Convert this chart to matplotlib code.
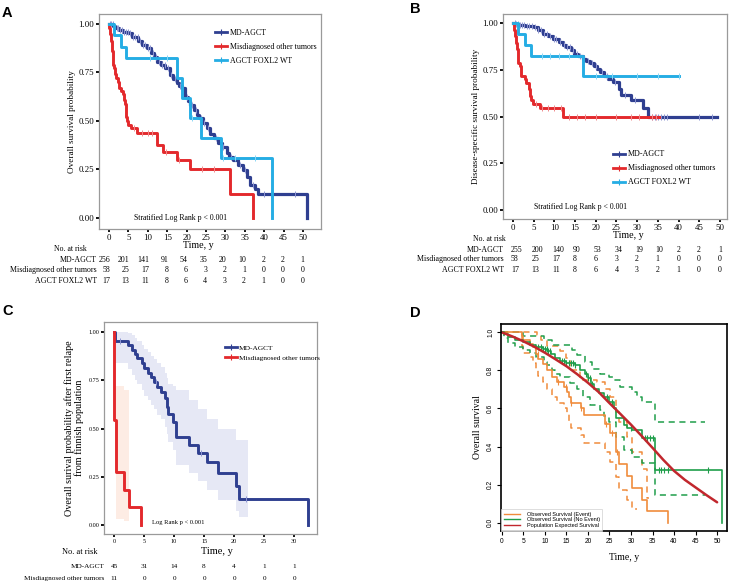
import numpy as np
import matplotlib
matplotlib.use('Agg')
import matplotlib.pyplot as plt
from matplotlib.lines import Line2D
import matplotlib.transforms as mtransforms

SERIF = 'Liberation Serif'
SANS = 'Liberation Sans'

W, H = 732, 583

# ---------------- DATA ----------------
# Panel A: overall survival
a_md_t = [0, 1.0, 1.5, 2.5, 3.5, 5.0, 6.0, 7.5, 8.5, 9.7, 10.8, 11.5, 12.3, 13.5, 14.5, 15.7, 16.5, 17.4,
          18.0, 18.7, 19.6, 20.3, 20.9, 21.8, 22.6, 23.3, 24.2, 25.2, 26.1, 27.0, 28.2, 29.0, 30.3, 31.0,
          32.0, 33.2, 34.6, 35.6, 36.3, 37.5, 38.5, 51.1]
a_md_s = [1.0, 0.99, 0.98, 0.97, 0.96, 0.952, 0.935, 0.91, 0.89, 0.875, 0.85, 0.83, 0.806, 0.79, 0.772,
          0.737, 0.715, 0.694, 0.68, 0.668, 0.625, 0.605, 0.583, 0.555, 0.531, 0.514, 0.49, 0.462, 0.435,
          0.411, 0.385, 0.368, 0.333, 0.315, 0.299, 0.273, 0.247, 0.213, 0.170, 0.15, 0.124, 0.0]
a_md_c = [0.3, 0.6, 0.9, 1.2, 1.6, 2.0, 2.4, 2.8, 3.3, 3.8, 4.3, 4.9, 5.5, 6.2, 6.8, 7.4, 8.0, 8.7, 9.3,
          10.0, 10.6, 11.3, 12.0, 12.8, 13.6, 14.4, 15.2, 16.1, 17.0, 18.2, 19.0, 20.0, 21.3, 22.3, 23.6,
          24.6, 25.6, 27.5, 29.5, 31.5, 33.8, 35.0, 37.0, 40.0, 48.0]
a_mis_t = [0, 0.1, 0.2, 0.3, 0.45, 0.55, 0.7, 0.85, 1.0, 1.1, 1.3, 1.5, 1.8, 2.2, 2.6, 3.0, 3.5, 3.9, 4.2,
           4.4, 4.5, 4.7, 5.0, 5.6, 7.1, 12.3, 13.8, 17.5, 20.9, 31.2, 37.2]
a_mis_s = [1.0, 0.98, 0.965, 0.95, 0.93, 0.91, 0.88, 0.86, 0.83, 0.79, 0.775, 0.74, 0.72, 0.70, 0.67,
           0.655, 0.64, 0.61, 0.59, 0.57, 0.52, 0.50, 0.48, 0.465, 0.44, 0.375, 0.34, 0.30, 0.25, 0.125, 0.0]
a_mis_c = [6.5, 8.5, 10.0, 11.0, 14.6, 18.0, 24.0, 27.0]
a_wt_t = [0, 1.3, 3.2, 4.4, 17.4, 18.9, 20.9, 23.7, 28.8, 42.0]
a_wt_s = [1.0, 0.941, 0.882, 0.824, 0.72, 0.62, 0.515, 0.41, 0.31, 0.0]
a_wt_c = [10.5, 15.0, 21.5, 29.5, 32.5, 37.5]

# Panel B: disease-specific survival
b_md_t = [0, 0.5, 1.5, 3.0, 5.0, 6.0, 7.3, 8.5, 9.6, 11.2, 12.0, 12.8, 14.0, 14.8, 15.8, 16.8, 17.6, 18.6,
          19.5, 20.3, 21.0, 22.0, 23.0, 24.2, 25.5, 26.2, 28.6, 31.5, 32.7, 49.4]
b_md_s = [1.0, 0.995, 0.99, 0.985, 0.98, 0.965, 0.945, 0.93, 0.918, 0.90, 0.885, 0.873, 0.855, 0.837,
          0.825, 0.811, 0.80, 0.79, 0.77, 0.755, 0.74, 0.72, 0.704, 0.686, 0.65, 0.615, 0.588, 0.544,
          0.499, 0.499]
b_md_c = [0.4, 0.8, 1.2, 1.7, 2.2, 2.7, 3.3, 3.9, 4.5, 5.3, 6.0, 6.8, 7.6, 8.3, 9.0, 9.8, 10.5, 11.3,
          12.2, 13.0, 13.8, 14.6, 15.5, 16.3, 17.2, 18.0, 19.0, 20.0, 21.5, 22.6, 24.6, 27.0, 29.5,
          33.5, 34.2, 35.0, 35.8, 36.5, 37.3, 45.0, 48.0]
b_mis_t = [0, 0.3, 0.5, 0.7, 0.9, 1.1, 1.3, 1.6, 2.0, 2.8, 3.2, 3.8, 4.2, 4.4, 4.8, 6.4, 12.0, 35.3]
b_mis_s = [1.0, 0.965, 0.93, 0.895, 0.86, 0.825, 0.79, 0.77, 0.72, 0.70, 0.68, 0.65, 0.61, 0.59, 0.57,
           0.545, 0.50, 0.50]
b_mis_c = [5.5, 7.0, 8.5, 10.0, 11.5, 13.5, 15.5, 17.5, 20.0, 25.0, 28.5, 30.5, 33.5, 34.5]
b_wt_t = [0, 1.2, 3.0, 4.4, 16.8, 40.2]
b_wt_s = [1.0, 0.941, 0.882, 0.824, 0.717, 0.717]
b_wt_c = [7.0, 9.0, 11.0, 13.5, 20.0, 24.0, 30.0, 35.0, 40.2]

# Panel C: survival after first relapse
c_md_t = [0, 0.17, 2.39, 2.94, 3.5, 3.89, 4.61, 5.0, 5.72, 6.11, 6.67, 7.11, 7.83, 8.5, 8.78, 9.06,
          9.89, 10.28, 12.56, 14.06, 15.44, 17.39, 20.33, 20.83, 32.39]
c_md_s = [1.0, 0.957, 0.934, 0.91, 0.888, 0.865, 0.84, 0.813, 0.787, 0.766, 0.744, 0.718, 0.692, 0.657,
          0.614, 0.576, 0.536, 0.458, 0.415, 0.372, 0.324, 0.272, 0.202, 0.133, 0.0]
c_md_ci_t = [0, 0.17, 2.39, 2.94, 3.5, 3.89, 4.61, 5.0, 5.72, 6.11, 6.67, 7.11, 7.83, 8.5, 8.78, 9.06,
             9.89, 10.28, 12.56, 14.06, 15.44, 17.39, 20.33, 20.83, 22.3]
c_md_lo = [1.0, 0.84, 0.81, 0.78, 0.75, 0.73, 0.70, 0.67, 0.65, 0.62, 0.60, 0.57, 0.55, 0.51, 0.47, 0.43,
           0.39, 0.31, 0.27, 0.23, 0.18, 0.13, 0.07, 0.04, 0.04]
c_md_hi = [1.0, 1.0, 0.995, 0.985, 0.97, 0.955, 0.935, 0.915, 0.895, 0.875, 0.86, 0.84, 0.82, 0.79, 0.76,
           0.73, 0.72, 0.70, 0.65, 0.60, 0.55, 0.50, 0.44, 0.44, 0.44]
c_md_c = [1.0, 7.0, 14.5, 22.0]
c_mis_t = [0, 0.05, 0.33, 1.67, 2.56, 4.44]
c_mis_s = [1.0, 0.545, 0.273, 0.182, 0.091, 0.0]
c_mis_ci_t = [0.33, 1.67, 2.56]
c_mis_lo = [0.03, 0.02, 0.02]
c_mis_hi = [0.72, 0.70, 0.70]

# Panel D: observed vs expected survival
d_ev_t = [0, 4.7, 5.0, 6.5, 7.2, 8.0, 8.5, 9.5, 10.5, 11.7, 12.8, 14.4, 15.2, 15.6, 16.0, 18.3, 19.1,
          24.0, 25.2, 26.4, 27.1, 29.1, 30.3, 32.6, 33.8, 38.7]
d_ev_s = [1.0, 0.98, 0.958, 0.94, 0.923, 0.888, 0.862, 0.836, 0.80, 0.766, 0.74, 0.714, 0.687, 0.66,
          0.627, 0.60, 0.565, 0.52, 0.47, 0.37, 0.31, 0.243, 0.18, 0.12, 0.06, 0.0]
d_ev_hi_t = [0, 8.1, 9.0, 10.5, 13.5, 15.0, 15.8, 18.2, 22.0, 24.0, 25.2, 26.4, 27.1, 29.1, 30.3, 32.6,
             33.8, 34.2]
d_ev_hi = [1.0, 0.985, 0.96, 0.93, 0.90, 0.863, 0.80, 0.75, 0.74, 0.70, 0.66, 0.58, 0.53, 0.45, 0.37,
           0.28, 0.13, 0.13]
d_ev_lo_t = [0, 4.7, 5.0, 6.5, 7.2, 8.0, 8.5, 9.5, 10.5, 11.7, 12.8, 14.4, 15.2, 15.6, 16.0, 18.3, 19.1,
             24.0, 25.2, 26.4, 27.1, 29.1, 30.3, 31.4]
d_ev_lo = [1.0, 0.93, 0.89, 0.87, 0.84, 0.80, 0.77, 0.74, 0.70, 0.66, 0.63, 0.60, 0.57, 0.53, 0.50, 0.46,
           0.42, 0.37, 0.32, 0.24, 0.17, 0.12, 0.07, 0.07]
d_ev_c = [7.8, 8.3, 13.0, 14.8, 16.0, 18.5, 24.2, 25.5, 26.8]
d_ne_t = [0, 0.5, 1.5, 3.0, 5.0, 6.5, 8.0, 9.5, 10.5, 11.3, 12.3, 13.5, 15.0, 17.0, 18.1, 19.2, 19.9,
          20.7, 21.4, 22.5, 23.7, 24.9, 26.0, 26.4, 28.3, 29.1, 30.3, 32.6, 35.6, 51.1]
d_ne_s = [1.0, 0.99, 0.975, 0.96, 0.948, 0.935, 0.925, 0.915, 0.90, 0.888, 0.865, 0.85, 0.84, 0.83,
          0.80, 0.78, 0.76, 0.73, 0.70, 0.68, 0.66, 0.635, 0.605, 0.548, 0.513, 0.50, 0.485, 0.443,
          0.277, 0.0]
d_ne_hi_t = [0, 5.0, 9.7, 11.6, 16.2, 17.5, 19.3, 21.0, 22.8, 24.9, 26.0, 27.5, 30.3, 31.5, 32.6, 35.6,
             47.3]
d_ne_hi = [1.0, 0.98, 0.96, 0.933, 0.907, 0.88, 0.846, 0.81, 0.78, 0.765, 0.75, 0.714, 0.687, 0.66,
           0.634, 0.527, 0.527]
d_ne_lo_t = [0, 0.5, 1.5, 3.0, 5.0, 6.5, 8.0, 9.7, 10.5, 11.6, 12.3, 13.5, 15.8, 17.4, 18.9, 20.5, 22.8,
             23.7, 24.9, 26.4, 28.3, 30.3, 32.6, 35.6, 47.3]
d_ne_lo = [1.0, 0.97, 0.945, 0.925, 0.907, 0.89, 0.872, 0.845, 0.828, 0.80, 0.78, 0.767, 0.735, 0.70,
           0.662, 0.62, 0.59, 0.56, 0.53, 0.452, 0.38, 0.347, 0.313, 0.147, 0.147]
d_ne_c = [8.5, 9.0, 9.5, 10.0, 10.4, 10.8, 11.1, 14.0, 14.5, 15.0, 15.5, 16.0, 16.5, 17.0, 19.5, 20.0,
          20.4, 21.0, 24.5, 25.5, 30.0, 33.2, 33.8, 34.5, 35.2, 36.5, 37.0, 37.6, 38.5, 48.0]
d_exp_t = [0, 2.5, 5, 7.5, 10, 12.5, 15, 17.5, 20, 22.5, 25, 27.5, 30, 32.5, 35, 37.5, 40, 42.5, 45, 47.5, 50]
d_exp_s = [1.0, 0.978, 0.953, 0.925, 0.893, 0.858, 0.822, 0.780, 0.735, 0.686, 0.628, 0.572, 0.515,
           0.455, 0.393, 0.330, 0.272, 0.225, 0.185, 0.145, 0.107]

# Risk tables
ab_ticks = list(range(0, 51, 5))
a_risk_md = [256, 201, 141, 91, 54, 35, 20, 10, 2, 2, 1]
b_risk_md = [255, 200, 140, 90, 53, 34, 19, 10, 2, 2, 1]
ab_risk_mis = [58, 25, 17, 8, 6, 3, 2, 1, 0, 0, 0]
ab_risk_wt = [17, 13, 11, 8, 6, 4, 3, 2, 1, 0, 0]
c_ticks = list(range(0, 31, 5))
c_risk_md = [45, 31, 14, 8, 4, 1, 1]
c_risk_mis = [11, 0, 0, 0, 0, 0, 0]

groups3 = ['MD-AGCT', 'Misdiagnosed other tumors', 'AGCT FOXL2 WT']
d_groups = ['Observed Survival (Event)', 'Observed Survival (No Event)', 'Population Expected Survival']

# colors
NAVY = '#2f3f90'
NAVY_L = '#8e96d2'
RED = '#e3292c'
RED_L = '#f08a8c'
CYAN = '#25ade4'
CYAN_L = '#8ad6f5'
D_OR = '#f08c3c'
D_GR = '#1f9e4a'
D_RED = '#c1272d'

fig = plt.figure(figsize=(W / 100, H / 100), dpi=100)


def fx(px):
    return px / W


def fy(py):
    return 1 - py / H


def add_axes(l, t, r, b):
    return fig.add_axes([fx(l), fy(b), fx(r - l), (b - t) / H])


def km(ax, t, s, color, lw=2.0, **kw):
    ax.step(t, s, where='post', color=color, lw=lw, **kw)


def censor(ax, t, s, ct, color, ms=4, mew=0.7):
    idx = np.searchsorted(np.asarray(t), np.asarray(ct), side='right') - 1
    ax.plot(ct, np.asarray(s)[idx], ls='none', marker='|', color=color, ms=ms, mew=mew)


def style_gg(ax, tick_fs):
    for sp in ax.spines.values():
        sp.set_color('#9a9a9a')
        sp.set_linewidth(0.9)
    ax.tick_params(direction='out', length=2, width=1.3, color='black', labelsize=tick_fs, pad=1.5)
    for lab in ax.get_xticklabels() + ax.get_yticklabels():
        lab.set_family(SERIF)


# ---------------- Panel A ----------------
axA = add_axes(99, 14, 321, 229)
km(axA, a_md_t, a_md_s, NAVY, lw=2.3)
censor(axA, a_md_t, a_md_s, a_md_c, NAVY_L)
km(axA, a_mis_t, a_mis_s, RED, lw=2.1)
censor(axA, a_mis_t, a_mis_s, a_mis_c, RED_L)
km(axA, a_wt_t, a_wt_s, CYAN, lw=2.1)
censor(axA, a_wt_t, a_wt_s, a_wt_c, CYAN_L)
axA.set_xlim(-2.58, 54.64)
axA.set_ylim(-0.057, 1.0515)
axA.set_xticks(ab_ticks)
axA.set_yticks([0, 0.25, 0.5, 0.75, 1.0])
axA.set_yticklabels(['0.00', '0.25', '0.50', '0.75', '1.00'])
style_gg(axA, 6.3)
axA.set_ylabel('Overall survival probability', family=SERIF, fontsize=6.6, labelpad=2)
axA.text(0.5 * (0 + 50) - 6.5, 0.0, 'Stratified Log Rank p < 0.001', family=SERIF, fontsize=5.6,
         ha='center', va='center')
hA = [Line2D([], [], color=c, lw=2.0, marker='|', ms=5, mew=0.8) for c in (NAVY, RED, CYAN)]
axA.legend(hA, groups3, loc='upper left', bbox_to_anchor=(0.49, 0.965), frameon=False,
           prop={'family': SERIF, 'size': 5.7}, handlelength=1.5, handletextpad=0.35, labelspacing=0.75)
fig.text(fx(198), fy(245), 'Time, y', family=SERIF, fontsize=7.2, ha='center', va='center')

trA = mtransforms.blended_transform_factory(axA.transData, fig.transFigure)
fig.text(fx(87), fy(249), 'No. at risk', family=SERIF, fontsize=5.6, ha='right', va='center')
for lab, row, py in zip(groups3, [a_risk_md, ab_risk_mis, ab_risk_wt], [260, 270.5, 281]):
    fig.text(fx(97), fy(py), lab, family=SERIF, fontsize=5.7, ha='right', va='center')
    for xv, n in zip(ab_ticks, row):
        axA.text(xv + 0.3, fy(py), str(n), transform=trA, family=SERIF, fontsize=5.7,
                 ha='right', va='center')

# ---------------- Panel B ----------------
axB = add_axes(503, 14, 727, 219)
km(axB, b_md_t, b_md_s, NAVY, lw=2.3)
censor(axB, b_md_t, b_md_s, b_md_c, NAVY_L)
km(axB, b_mis_t, b_mis_s, RED, lw=2.1)
censor(axB, b_mis_t, b_mis_s, b_mis_c, RED_L)
km(axB, b_wt_t, b_wt_s, CYAN, lw=2.1)
censor(axB, b_wt_t, b_wt_s, b_wt_c, CYAN_L)
axB.set_xlim(-2.42, 51.7)
axB.set_ylim(-0.048, 1.05)
axB.set_xticks(ab_ticks)
axB.set_yticks([0, 0.25, 0.5, 0.75, 1.0])
axB.set_yticklabels(['0.00', '0.25', '0.50', '0.75', '1.00'])
style_gg(axB, 6.3)
axB.set_ylabel('Disease-specific survival probability', family=SERIF, fontsize=6.6, labelpad=2)
axB.text(16.4, 0.017, 'Stratified Log Rank p < 0.001', family=SERIF, fontsize=5.6,
         ha='center', va='center')
hB = [Line2D([], [], color=c, lw=2.0, marker='|', ms=5, mew=0.8) for c in (NAVY, RED, CYAN)]
axB.legend(hB, groups3, loc='upper left', bbox_to_anchor=(0.46, 0.37), frameon=False,
           prop={'family': SERIF, 'size': 5.8}, handlelength=1.5, handletextpad=0.35, labelspacing=0.75)
fig.text(fx(628), fy(235), 'Time, y', family=SERIF, fontsize=7.2, ha='center', va='center')

trB = mtransforms.blended_transform_factory(axB.transData, fig.transFigure)
fig.text(fx(506), fy(239), 'No. at risk', family=SERIF, fontsize=5.6, ha='right', va='center')
for lab, row, py in zip(groups3, [b_risk_md, ab_risk_mis, ab_risk_wt], [250, 259.5, 270]):
    fig.text(fx(504), fy(py), lab, family=SERIF, fontsize=5.7, ha='right', va='center')
    for xv, n in zip(ab_ticks, row):
        axB.text(xv - 0.5, fy(py), str(n), transform=trB, family=SERIF, fontsize=5.7,
                 ha='left', va='center')

# ---------------- Panel C ----------------
axC = add_axes(104, 322, 317, 534)
axC.fill_between(c_md_ci_t, c_md_lo, c_md_hi, step='post', color='#e6e8f5', lw=0)
axC.fill_between(c_mis_ci_t, c_mis_lo, c_mis_hi, step='post', color='#fdece4', lw=0)
km(axC, c_md_t, c_md_s, NAVY, lw=2.1)
censor(axC, c_md_t, c_md_s, c_md_c, NAVY_L)
km(axC, c_mis_t, c_mis_s, RED, lw=2.1)
axC.set_xlim(-1.67, 33.83)
axC.set_ylim(-0.047, 1.053)
axC.set_xticks(c_ticks)
axC.set_yticks([0, 0.25, 0.5, 0.75, 1.0])
axC.set_yticklabels(['0.00', '0.25', '0.50', '0.75', '1.00'])
style_gg(axC, 4.4)
axC.set_ylabel('Overall surival probability after first relape\nfrom finnish population',
               family=SERIF, fontsize=7.3, labelpad=3, linespacing=1.0)
axC.text(10.7, 0.012, 'Log Rank p < 0.001', family=SERIF, fontsize=4.7, ha='center', va='center')
hC = [Line2D([], [], color=c, lw=2.0, marker='|', ms=5, mew=0.8) for c in (NAVY, RED)]
axC.legend(hC, groups3[:2], loc='upper left', bbox_to_anchor=(0.535, 0.925), frameon=False,
           prop={'family': SERIF, 'size': 5.3}, handlelength=1.7, handletextpad=0.25, labelspacing=0.55)
fig.text(fx(217), fy(551), 'Time, y', family=SERIF, fontsize=7.5, ha='center', va='center')

trC = mtransforms.blended_transform_factory(axC.transData, fig.transFigure)
fig.text(fx(80), fy(552), 'No. at risk', family=SERIF, fontsize=6.0, ha='center', va='center')
for lab, row, py in zip(groups3[:2], [c_risk_md, c_risk_mis], [566, 578.5]):
    fig.text(fx(104), fy(py), lab, family=SERIF, fontsize=5.2, ha='right', va='center')
    for xv, n in zip(c_ticks, row):
        axC.text(xv, fy(py), str(n), transform=trC, family=SERIF, fontsize=5.2,
                 ha='center', va='center')

# ---------------- Panel D ----------------
axD = add_axes(501, 324, 727, 531)
km(axD, d_ev_hi_t, d_ev_hi, D_OR, lw=1.1, ls=(0, (4, 3)))
km(axD, d_ev_lo_t, d_ev_lo, D_OR, lw=1.1, ls=(0, (4, 3)))
km(axD, d_ne_hi_t, d_ne_hi, D_GR, lw=1.1, ls=(0, (4, 3)))
km(axD, d_ne_lo_t, d_ne_lo, D_GR, lw=1.1, ls=(0, (4, 3)))
km(axD, d_ev_t, d_ev_s, D_OR, lw=1.2)
censor(axD, d_ev_t, d_ev_s, d_ev_c, D_OR, ms=4, mew=0.8)
km(axD, d_ne_t, d_ne_s, D_GR, lw=1.2)
censor(axD, d_ne_t, d_ne_s, d_ne_c, D_GR, ms=4, mew=0.8)
axD.plot(d_exp_t, d_exp_s, color=D_RED, lw=1.8, solid_capstyle='round')
axD.set_xlim(-0.2, 52.3)
axD.set_ylim(-0.044, 1.044)
axD.set_xticks(ab_ticks)
axD.set_yticks([0, 0.2, 0.4, 0.6, 0.8, 1.0])
axD.set_yticklabels(['0.0', '0.2', '0.4', '0.6', '0.8', '1.0'], rotation=90, va='center')
for sp in axD.spines.values():
    sp.set_color('black')
    sp.set_linewidth(1.2)
axD.tick_params(direction='out', length=3, width=0.8, labelsize=4.8, pad=2)
for lab in axD.get_xticklabels() + axD.get_yticklabels():
    lab.set_family(SANS)
axD.set_ylabel('Overall survival', family=SERIF, fontsize=7.0, labelpad=4)
fig.text(fx(624), fy(557), 'Time, y', family=SERIF, fontsize=7.0, ha='center', va='center')
hD = [Line2D([], [], color=c, lw=lw) for c, lw in ((D_OR, 1.0), (D_GR, 1.0), (D_RED, 1.0))]
legD = axD.legend(hD, d_groups, loc='lower left', bbox_to_anchor=(0.0, 0.0), frameon=True,
                  prop={'family': SANS, 'size': 4.0}, handlelength=3.0, handletextpad=1.1,
                  labelspacing=0.15, borderaxespad=0.0, borderpad=0.5, fancybox=False)
legD.get_frame().set_edgecolor('#cfcfcf')
legD.get_frame().set_linewidth(0.6)

# panel letters
for letter, px, py in (('A', 2, 17), ('B', 410, 13), ('C', 2, 315), ('D', 410, 317)):
    fig.text(fx(px), fy(py), letter, family=SANS, fontweight='bold', fontsize=10.5,
             ha='left', va='baseline')

fig.savefig('out.png', dpi=100)
